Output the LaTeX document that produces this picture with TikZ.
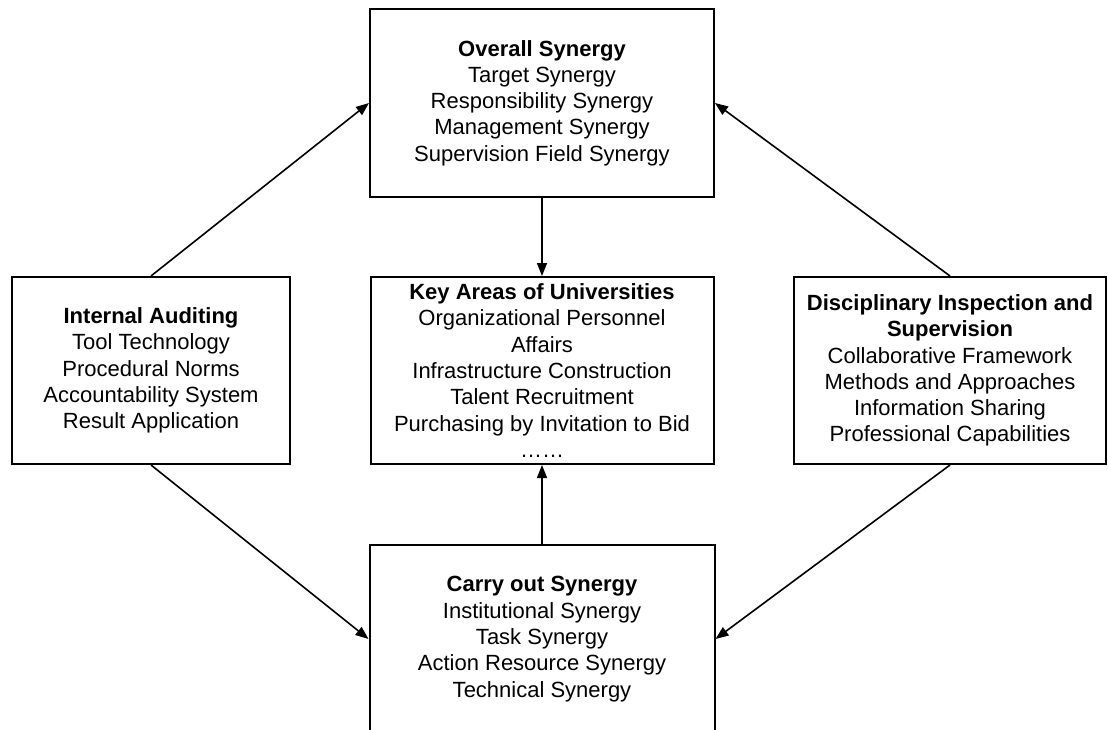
\documentclass[tikz,border=0pt]{standalone}
\usepackage{fontspec}
\setmainfont{Liberation Sans}
\usetikzlibrary{arrows.meta}

\begin{document}
\begin{tikzpicture}[x=1pt,y=-1pt,>={Triangle[length=13pt,width=10pt]},
  box/.style={draw,line width=2pt,align=center,inner sep=0pt,
    font=\fontsize{22}{26.3}\selectfont}]

  \clip (0,0) rectangle (1108,730);

  %--- Overall synergy (top) ---
  \node[box,minimum width=344pt,minimum height=188pt] (ovl) at (542,103)
    {\textbf{Overall Synergy}\\Target Synergy\\Responsibility Synergy\\
     Management Synergy\\Supervision Field Synergy};

  %--- Key areas (centre) ---
  \node[box,minimum width=343pt,minimum height=187pt] (keys) at (542,370.5)
    {\textbf{Key Areas of Universities}\\Organizational Personnel\\Affairs\\
     Infrastructure Construction\\Talent Recruitment\\
     Purchasing by Invitation to Bid\\……};

  %--- Internal auditing (left) ---
  \node[box,minimum width=278pt,minimum height=187pt] (aud) at (151,370.5)
    {\textbf{Internal Auditing}\\Tool Technology\\Procedural Norms\\
     Accountability System\\Result Application};

  %--- Disciplinary inspection (right) ---
  \node[box,minimum width=312pt,minimum height=187pt] (dis) at (950,370.5)
    {\textbf{Disciplinary Inspection and}\\\textbf{Supervision}\\
     Collaborative Framework\\Methods and Approaches\\
     Information Sharing\\Professional Capabilities};

  %--- Carry out synergy (bottom, runs off the page) ---
  \node[box,minimum width=345pt,minimum height=188pt] (car) at (542,639)
    {\textbf{Carry out Synergy}\\Institutional Synergy\\Task Synergy\\
     Action Resource Synergy\\Technical Synergy};

  %--- Links ---
  \draw[->,line width=1.6pt] (ovl.south) -- (keys.north);
  \draw[->,line width=1.6pt] (car.north) -- (keys.south);
  \draw[->,line width=1.6pt] (aud.north) -- (ovl.west);
  \draw[->,line width=1.6pt] (dis.north) -- (ovl.east);
  \draw[->,line width=1.6pt] (aud.south) -- (car.west);
  \draw[->,line width=1.6pt] (dis.south) -- (car.east);

\end{tikzpicture}
\end{document}
